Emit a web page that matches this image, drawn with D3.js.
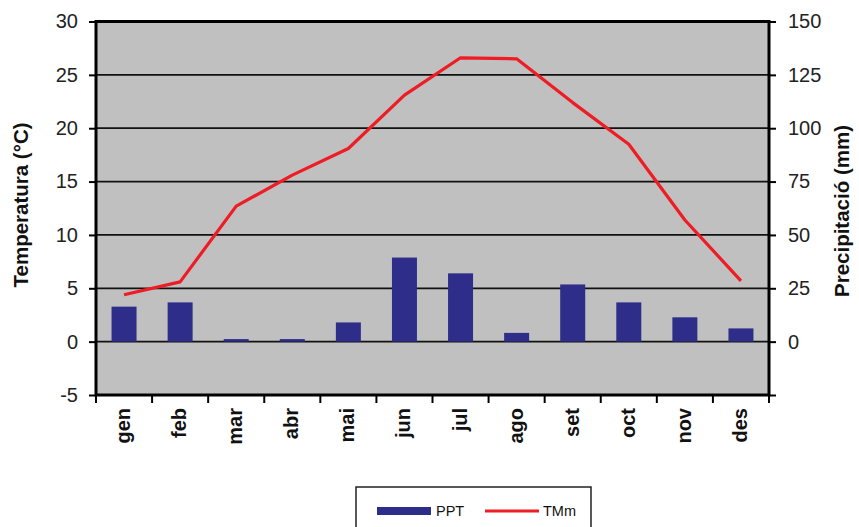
<!DOCTYPE html>
<html><head><meta charset="utf-8">
<script src="https://cdn.jsdelivr.net/npm/d3@7"></script>
<style>body{margin:0;background:#fff;} text{font-family:Arial,"Liberation Sans",sans-serif;}</style>
</head><body>
<svg id="c" width="859" height="527"></svg>
<script>
const months = ["gen","feb","mar","abr","mai","jun","jul","ago","set","oct","nov","des"];
const ppt = [16.4, 18.4, 1.2, 1.2, 9, 39.4, 32, 4.1, 26.8, 18.4, 11.4, 6.2];
const tmm = [4.4, 5.6, 12.7, 15.6, 18.1, 23.1, 26.6, 26.5, 22.4, 18.5, 11.4, 5.7];
const tempTicks = [-5,0,5,10,15,20,25,30];
const precTicks = [0,25,50,75,100,125,150];

const svg = d3.select("#c");
const L=96, R=769, T=21.5, B=395;
const xb = d3.scaleBand().domain(months).range([L,R]);
const yT = d3.scaleLinear().domain([-5,30]).range([B,T]);
const yP = d3.scaleLinear().domain([-25,150]).range([B,T]);

svg.append("rect").attr("x",L).attr("y",T).attr("width",R-L).attr("height",B-T).attr("fill","#c0c0c0");
// grid
svg.append("g").selectAll("line").data(tempTicks.filter(d=>d>-5&&d<30)).join("line")
  .attr("x1",L).attr("x2",R).attr("y1",d=>yT(d)).attr("y2",d=>yT(d))
  .attr("stroke","#111").attr("stroke-width",1.8);
// bars
svg.append("g").selectAll("rect").data(ppt).join("rect")
  .attr("x",(d,i)=>xb(months[i])+xb.bandwidth()/2-12.5).attr("width",25)
  .attr("y",d=>yP(d)).attr("height",d=>yP(0)-yP(d)).attr("fill","#2e2e8a");
// line
svg.append("path").datum(tmm).attr("fill","none").attr("stroke","#ee1c24").attr("stroke-width",3.2)
  .attr("stroke-linejoin","round")
  .attr("d",d3.line().x((d,i)=>xb(months[i])+xb.bandwidth()/2).y(d=>yT(d)));
// frame
svg.append("rect").attr("x",L).attr("y",T).attr("width",R-L).attr("height",B-T).attr("fill","none").attr("stroke","#000").attr("stroke-width",3);

// left axis
const la = svg.append("g").attr("transform",`translate(${L},0)`)
  .call(d3.axisLeft(yT).tickValues(tempTicks).tickSize(7).tickPadding(11).tickFormat(d=>String(d)));
la.select(".domain").remove();
la.selectAll("line").attr("stroke","#000").attr("stroke-width",2);
la.selectAll("text").attr("font-size",20).attr("fill","#222");
// right axis
const ra = svg.append("g").attr("transform",`translate(${R},0)`)
  .call(d3.axisRight(yP).tickValues([-25].concat(precTicks)).tickSize(7).tickPadding(12)
    .tickFormat(d=>d<0?"":String(d)));
ra.select(".domain").remove();
ra.selectAll("line").attr("stroke","#000").attr("stroke-width",2);
ra.selectAll("text").attr("font-size",20).attr("fill","#222");
// bottom axis
const bounds = months.map(m=>xb(m)).concat([R]);
svg.append("g").selectAll("line").data(bounds).join("line")
  .attr("x1",d=>d).attr("x2",d=>d).attr("y1",B).attr("y2",B+8).attr("stroke","#000").attr("stroke-width",2);
svg.append("g").selectAll("text").data(months).join("text")
  .attr("transform",d=>`translate(${xb(d)+xb.bandwidth()/2+6},${B+13}) rotate(-90)`)
  .attr("text-anchor","end").attr("font-size",20).attr("font-weight","bold").attr("fill","#111").text(d=>d);

// titles
svg.append("text").attr("transform",`translate(28,205) rotate(-90)`).attr("text-anchor","middle")
  .attr("font-size",20.5).attr("font-weight","bold").attr("fill","#111").text("Temperatura (°C)");
svg.append("text").attr("transform",`translate(849,211) rotate(-90)`).attr("text-anchor","middle")
  .attr("font-size",20.5).attr("font-weight","bold").attr("fill","#111").text("Precipitació (mm)");

// legend
svg.append("rect").attr("x",356).attr("y",487).attr("width",235).attr("height",50).attr("fill","#fff").attr("stroke","#222").attr("stroke-width",1.5);
svg.append("rect").attr("x",377).attr("y",507).attr("width",54).attr("height",8).attr("fill","#2e2e8a");
svg.append("text").attr("x",436).attr("y",516).attr("font-size",14.5).attr("fill","#111").text("PPT");
svg.append("line").attr("x1",485).attr("x2",539).attr("y1",511).attr("y2",511).attr("stroke","#ee1c24").attr("stroke-width",3);
svg.append("text").attr("x",543).attr("y",516).attr("font-size",14.5).attr("fill","#111").text("TMm");
</script>
</body></html>
